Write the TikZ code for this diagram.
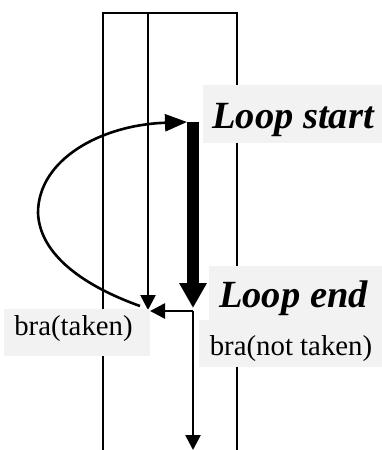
\documentclass[tikz,border=0pt]{standalone}
\usepackage{fontspec}
\setmainfont{Liberation Serif}
\usetikzlibrary{arrows.meta}
\definecolor{lbl}{HTML}{F2F2F2}
\tikzset{
  x=1pt, y=-1pt,
  thin line/.style={line width=2.6pt, line join=miter},
  arr/.style={thin line, -{Triangle[width=15pt,length=15pt]}},
  bigtxt/.style={font=\fontsize{38.5}{40}\selectfont\bfseries\itshape, inner sep=0pt, anchor=base},
  smtxt/.style={font=\fontsize{28.8}{30}\selectfont, inner sep=0pt, anchor=base},
  lblbox/.style={fill=lbl, draw=none}
}
\begin{document}
\begin{tikzpicture}
\useasboundingbox (0,0) rectangle (382,450);
% frame
\coordinate (fl) at (103,450);
\coordinate (ftl) at (103,13);
\coordinate (ftr) at (237,13);
\coordinate (fr) at (237,450);
\draw[thin line] (fl) -- (ftl) -- (ftr) -- (fr);
% inner line with arrow
\coordinate (itop) at (148,13);
\coordinate (ibot) at (148,310);
\draw[arr] (itop) -- (ibot);
% label boxes
\fill[lblbox] (203,85) rectangle (382,143);
\fill[lblbox] (209,266) rectangle (382,320);
\fill[lblbox] (199,320) rectangle (382,367);
\fill[lblbox] (4,309) rectangle (150,356);
% thick arrow
\coordinate (ls) at (193,122);
\coordinate (le) at (193,308);
\draw[line width=12.5pt, line cap=butt, -{Triangle[width=26pt,length=25pt]}] (ls) -- (le);
% branch
\coordinate (br) at (193,311);
\coordinate (bt) at (150,311);
\coordinate (bb) at (193,450);
\draw[arr] (br) -- (bt);
\draw[arr] (br) -- (bb);
% loop-back curve
\coordinate (cs) at (140,306);
\coordinate (cm) at (38,213);
\coordinate (ce) at (187,122);
\draw[thin line, -{Triangle[width=17pt,length=22pt]}] (cs) .. controls (95,290) and (40,260) .. (cm) .. controls (38,160) and (100,125) .. (ce);
% texts
\node[bigtxt] (tls) at (293,128) {Loop start};
\node[bigtxt] (tle) at (293.5,307) {Loop end};
\node[smtxt] (tnt) at (291,355) {bra(not taken)};
\node[smtxt] (tt) at (73.5,335) {bra(taken)};
\end{tikzpicture}
\end{document}
